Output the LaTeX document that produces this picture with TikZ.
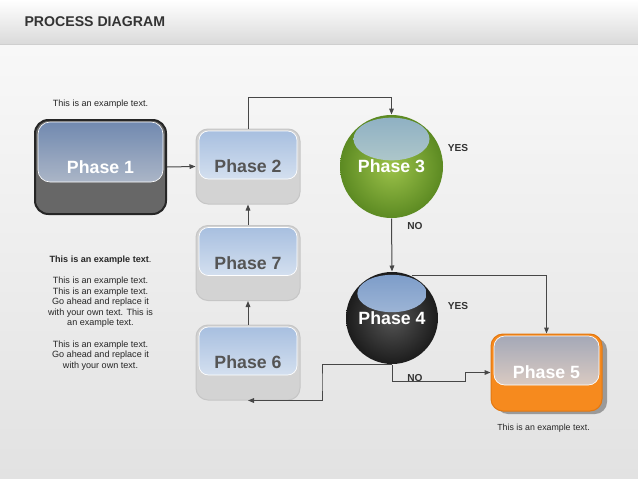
\documentclass[tikz,border=0pt]{standalone}
\usepackage{fontspec}
\setmainfont{Liberation Sans}
\usetikzlibrary{arrows.meta,calc}

\definecolor{lineGray}{HTML}{474747}
\definecolor{titleGray}{HTML}{333333}
\definecolor{headGray}{HTML}{DADADA}
\definecolor{headLine}{HTML}{CFCFCF}
\definecolor{pageTop}{HTML}{F8F8F8}
\definecolor{pageBot}{HTML}{E2E2E2}
\definecolor{boxGray}{HTML}{D3D3D3}
\definecolor{boxEdge}{HTML}{C6C6C6}
\definecolor{panelTop}{HTML}{A6BEDF}
\definecolor{panelBot}{HTML}{EAF0F7}
\definecolor{phaseText}{HTML}{555555}
\definecolor{oneTop}{HTML}{6F88AF}
\definecolor{oneBot}{HTML}{CACDD3}
\definecolor{oneBody}{HTML}{676767}
\definecolor{fiveBody}{HTML}{F68A1E}
\definecolor{fiveEdge}{HTML}{E27812}
\definecolor{fiveTop}{HTML}{A2A7B7}
\definecolor{fiveBot}{HTML}{F6DCC7}
\definecolor{fiveShadow}{HTML}{9A9A9A}
\definecolor{greenIn}{HTML}{9CC24A}
\definecolor{greenOut}{HTML}{5C8A22}
\definecolor{greenTop}{HTML}{8DAFC3}
\definecolor{greenBot}{HTML}{D6E4D2}
\definecolor{darkIn}{HTML}{555555}
\definecolor{darkOut}{HTML}{1C1C1C}
\definecolor{darkTop}{HTML}{7B9BC8}
\definecolor{darkBot}{HTML}{C7D5E7}

\tikzset{every picture/.style={line width=0.75pt}}
\tikzset{
  glass/.style n args={4}{path picture={\shade[rounded corners=#4, top color=#1, bottom color=#2, draw=white, line width=0.5pt] ($(path picture bounding box.north west)+(3,-2)$) rectangle ($(path picture bounding box.north east)+(-3,-#3)$);}},
  shine/.style n args={5}{path picture={\shade[top color=#1, bottom color=#2] ($(path picture bounding box.center)+(0,#3)$) ellipse [x radius=#4, y radius=#5];}},
  phasebox/.style={rectangle, rounded corners=9pt, minimum width=78pt, minimum height=56.25pt, fill=boxGray, draw=boxEdge, text=phaseText, font=\bfseries\fontsize{13.3}{15}\selectfont, glass={panelTop}{panelBot}{50}{7pt}},
  phaseball/.style={circle, inner sep=0pt, text=white, font=\bfseries\fontsize{13.3}{15}\selectfont},
  conn/.style={draw=lineGray, line width=0.75pt},
  arr/.style={conn, -{Triangle[length=4.5pt,width=3.5pt]}},
  smalltext/.style={text=black!85, font=\fontsize{6.8}{7.95}\selectfont, align=center},
  answer/.style={text=titleGray, font=\bfseries\fontsize{7.6}{9}\selectfont}
}

\begin{document}
\begin{tikzpicture}[x=0.75pt,y=0.75pt,yscale=-1,xscale=1]
\useasboundingbox (0,0) rectangle (638,478);

%Background
\shade[top color=white, bottom color=headGray] (0,0) rectangle (638,44);
\fill[headLine] (0,44) rectangle (638,46);
\shade[top color=pageTop, bottom color=pageBot] (0,46) rectangle (638,478);

% Text Node
\node[anchor=west, inner sep=0pt, text=titleGray, font=\bfseries\fontsize{10.6}{12}\selectfont] (title) at (24,22) {PROCESS DIAGRAM};

%Shape: Phase 1
\node[rectangle, rounded corners=10pt, minimum width=98.25pt, minimum height=70.5pt, fill=oneBody, draw=black!85, line width=1.5pt, text=white, font=\bfseries\fontsize{13.3}{15}\selectfont, glass={oneTop}{oneBot}{62}{9pt}] (p1) at (100.5,167) {Phase 1};

%Shape: Phase 2, 7, 6
\node[phasebox] (p2) at (248,166.5) {Phase 2};
\node[phasebox] (p7) at (248,263) {Phase 7};
\node[phasebox] (p6) at (248,362.5) {Phase 6};

%Shape: Phase 5 with shadow
\fill[fiveShadow, rounded corners=9pt] (496,338) rectangle (607,414);
\node[rectangle, rounded corners=9pt, minimum width=83.25pt, minimum height=57.75pt, fill=fiveBody, draw=fiveEdge, text=white, font=\bfseries\fontsize{13.3}{15}\selectfont, glass={fiveTop}{fiveBot}{51}{8pt}] (p5) at (546.5,372.5) {Phase 5};

%Shape: Spheres
\node[phaseball, minimum size=77.25pt, inner color=greenIn, outer color=greenOut, shine={greenTop}{greenBot}{27.5}{28.5pt}{16pt}] (p3) at (391.5,166.5) {Phase 3};
\node[phaseball, minimum size=69pt, inner color=darkIn, outer color=darkOut, shine={darkTop}{darkBot}{24.5}{26pt}{14pt}] (p4) at (392,318) {Phase 4};

%Connectors
\coordinate (nojog) at (465,381);
\coordinate (sixjog) at (322,382);
\draw[arr] (p1.east) -- (p2.west);
\draw[arr] (p2.north) -- ++(0,-31) -| (p3.north);
\draw[arr] (p3.south) -- (p4.north);
\draw[arr] (p4.65) -| (p5.north);
\draw[arr] (p4.south) |- (nojog) |- (p5.west);
\draw[arr] (p4.south) -| (sixjog) |- (p6.south);
\draw[arr] (p6.north) -- (p7.south);
\draw[arr] (p7.north) -- (p2.south);

% Text Node
\node[answer] (yes3) at (458,148) {YES};
% Text Node
\node[answer] (no3) at (415,226) {NO};
% Text Node
\node[answer] (yes4) at (458,306) {YES};
% Text Node
\node[answer] (no4) at (415,378) {NO};

% Text Node
\node[smalltext] (note1) at (100.5,104) {This is an example text.};
% Text Node
\node[smalltext, font=\fontsize{6.6}{7.95}\selectfont] (note5) at (543.5,428) {This is an example text.};
% Text Node
\node[smalltext] (notes) at (100.5,313) {\textbf{This is an example text}.\\[7.95pt]
This is an example text.\\
This is an example text.\\
Go ahead and replace it\\
with your own text. This is\\
an example text.\\[7.95pt]
This is an example text.\\
Go ahead and replace it\\
with your own text.};

\end{tikzpicture}
\end{document}
